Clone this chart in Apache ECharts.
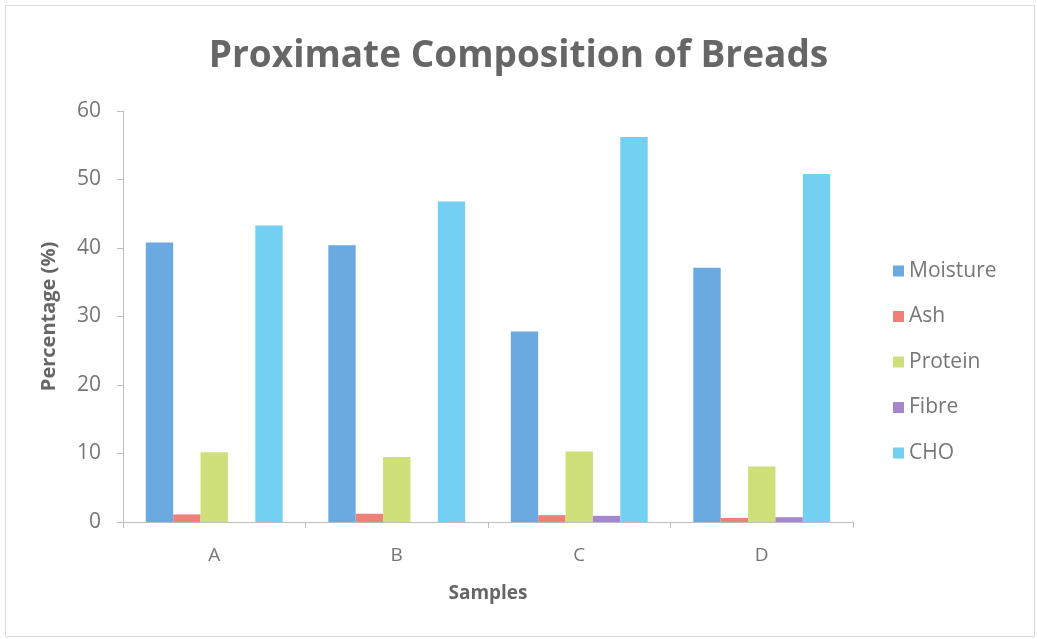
<!DOCTYPE html>
<html>
<head>
<meta charset="utf-8">
<script src="https://cdn.jsdelivr.net/npm/echarts@6/dist/echarts.min.js"></script>
<style>
  html, body { margin: 0; padding: 0; background: #ffffff; }
  #chart { width: 1037px; height: 639px; }
</style>
</head>
<body>
<div id="chart"></div>
<script>
// Bread samples and their proximate composition (%)
const samples = ['A', 'B', 'C', 'D'];
const moisture = [40.8, 40.4, 27.8, 37.1];
const ash = [1.1, 1.2, 1.0, 0.6];
const protein = [10.2, 9.5, 10.3, 8.1];
const fibre = [0, 0, 0.9, 0.7];
const cho = [43.3, 46.8, 56.2, 50.8];

const yTicks = { min: 0, max: 60, interval: 10 };

const textGray = '#666666';
const labelGray = '#767676';
const fontFamily = '"Open Sans", Lato, "Liberation Sans", sans-serif';

const seriesDefs = [
  { name: 'Moisture', data: moisture, color: '#6aaae0' },
  { name: 'Ash', data: ash, color: '#ef8078' },
  { name: 'Protein', data: protein, color: '#cfe07a' },
  { name: 'Fibre', data: fibre, color: '#a585cc' },
  { name: 'CHO', data: cho, color: '#74d0f2' }
];

const chart = echarts.init(document.getElementById('chart'));
chart.setOption({
  backgroundColor: '#ffffff',
  animation: false,
  textStyle: { fontFamily: fontFamily },
  // thin frame around the chart area
  graphic: [{
    type: 'rect',
    shape: { x: 5.5, y: 5.5, width: 1029, height: 631 },
    style: { fill: 'none', stroke: '#dadada', lineWidth: 1 },
    silent: true
  }],
  title: {
    text: 'Proximate Composition of Breads',
    left: 'center',
    top: 33,
    textStyle: { fontSize: 37, fontWeight: 'bold', color: textGray, fontFamily: fontFamily }
  },
  legend: {
    orient: 'vertical',
    left: 888,
    top: 252,
    itemWidth: 11,
    itemHeight: 11,
    itemGap: 17.5,
    icon: 'rect',
    textStyle: { fontSize: 21, color: labelGray, fontFamily: fontFamily, lineHeight: 28 },
    data: seriesDefs.map(s => s.name)
  },
  grid: { left: 123, right: 184, top: 111, bottom: 117, containLabel: false },
  xAxis: {
    type: 'category',
    data: samples,
    name: 'Samples',
    nameLocation: 'middle',
    nameGap: 62,
    nameTextStyle: { fontSize: 19, fontWeight: 'bold', color: textGray },
    axisLine: { lineStyle: { color: '#bdbdbd', width: 1 } },
    axisTick: { show: true, length: 6, lineStyle: { color: '#bdbdbd' } },
    axisLabel: { fontSize: 19, color: labelGray, margin: 24 }
  },
  yAxis: {
    type: 'value',
    min: yTicks.min,
    max: yTicks.max,
    interval: yTicks.interval,
    name: 'Percentage (%)',
    nameLocation: 'middle',
    nameGap: 64,
    nameTextStyle: { fontSize: 20, fontWeight: 'bold', color: textGray },
    axisLine: { show: true, lineStyle: { color: '#bdbdbd', width: 1 } },
    axisTick: { show: true, length: 6, lineStyle: { color: '#bdbdbd' } },
    splitLine: { show: false },
    axisLabel: { fontSize: 21, color: labelGray, margin: 22 }
  },
  series: seriesDefs.map(s => ({
    name: s.name,
    type: 'bar',
    data: s.data,
    barGap: '0%',
    barCategoryGap: '25%',
    itemStyle: { color: s.color }
  }))
});
</script>
</body>
</html>
